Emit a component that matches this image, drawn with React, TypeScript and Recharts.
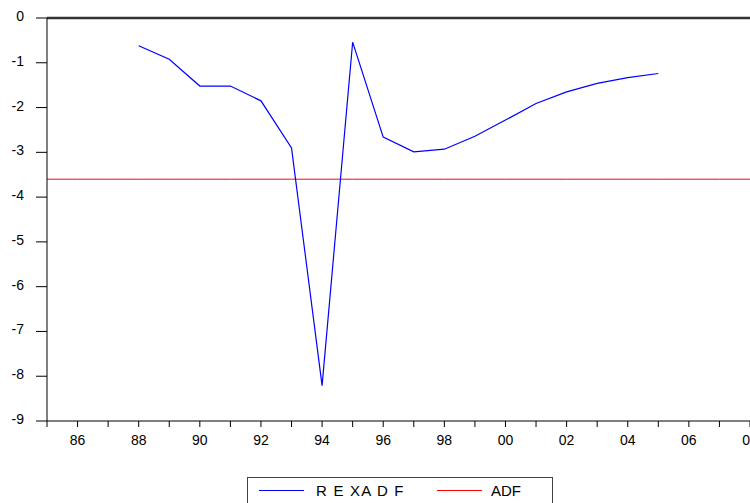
import { LineChart, Line, XAxis, YAxis, ReferenceLine } from 'recharts'

const years = [
  1985, 1986, 1987, 1988, 1989, 1990, 1991, 1992, 1993, 1994, 1995, 1996,
  1997, 1998, 1999, 2000, 2001, 2002, 2003, 2004, 2005, 2006, 2007, 2008,
]
// R E XA D F statistic, 1988-2005
const rexadf = [
  null, null, null, -0.62, -0.92, -1.52, -1.52, -1.85, -2.9, -8.21, -0.54, -2.66,
  -2.99, -2.93, -2.64, -2.28, -1.91, -1.65, -1.46, -1.33, -1.24, null, null, null,
]
const adf = years.map(() => -3.6)
const yTicks = [0, -1, -2, -3, -4, -5, -6, -7, -8, -9]

const series = [
  { key: 'rexadf', name: 'R E XA D F', color: '#0000ff' },
  { key: 'adf', name: 'ADF', color: '#ff0000' },
]

const data = years.map((year, i) => ({ year, rexadf: rexadf[i], adf: adf[i] }))

const font = '"Liberation Sans", Arial, sans-serif'

const fmtYear = (y: number) => (y % 2 === 0 ? String(y % 100).padStart(2, '0') : '')

export default function App() {
  return (
    <div style={{ position: 'absolute', left: 0, top: 0, width: 750, height: 503, overflow: 'hidden', background: '#fff', fontFamily: font }}>
      <LineChart width={750} height={503} data={data} margin={{ top: 18, right: 0, bottom: 52, left: 0 }}>
        <XAxis
          dataKey="year"
          type="number"
          domain={[1985, 2008]}
          ticks={years}
          interval={0}
          tickFormatter={fmtYear}
          height={30}
          tickSize={6}
          tickMargin={8}
          stroke="#000"
          tick={{ fill: '#000', fontSize: 14, fontFamily: font }}
        />
        <YAxis
          domain={[-9, 0]}
          ticks={yTicks}
          interval={0}
          width={47}
          tickSize={11}
          tickMargin={12}
          stroke="#000"
          tick={{ fill: '#000', fontSize: 14, fontFamily: font, dy: -2 }}
        />
        <ReferenceLine y={0} stroke="#333" strokeWidth={2.5} />
        <Line dataKey="adf" name="ADF" stroke="#e01010" strokeWidth={1} dot={false} isAnimationActive={false} />
        <Line dataKey="rexadf" name="R E XA D F" stroke="#0000ff" strokeWidth={1.2} dot={false} isAnimationActive={false} />
      </LineChart>
      <div
        style={{
          position: 'absolute',
          left: 247,
          top: 477,
          width: 306,
          height: 30,
          border: '1px solid #444',
          boxSizing: 'border-box',
          display: 'flex',
          alignItems: 'center',
          fontSize: 15,
          paddingBottom: 4,
          paddingLeft: 11,
        }}
      >
        {series.map((s, i) => (
          <div key={s.key} style={{ display: 'flex', alignItems: 'center', width: i === 0 ? 178 : 'auto', flex: 'none' }}>
            <div style={{ width: 45, height: 0, borderTop: `1px solid ${s.color}` }} />
            <span style={{ marginLeft: i === 0 ? 12 : 9, whiteSpace: 'pre', letterSpacing: i === 0 ? 1.2 : 0 }}>{s.name}</span>
          </div>
        ))}
      </div>
    </div>
  )
}
